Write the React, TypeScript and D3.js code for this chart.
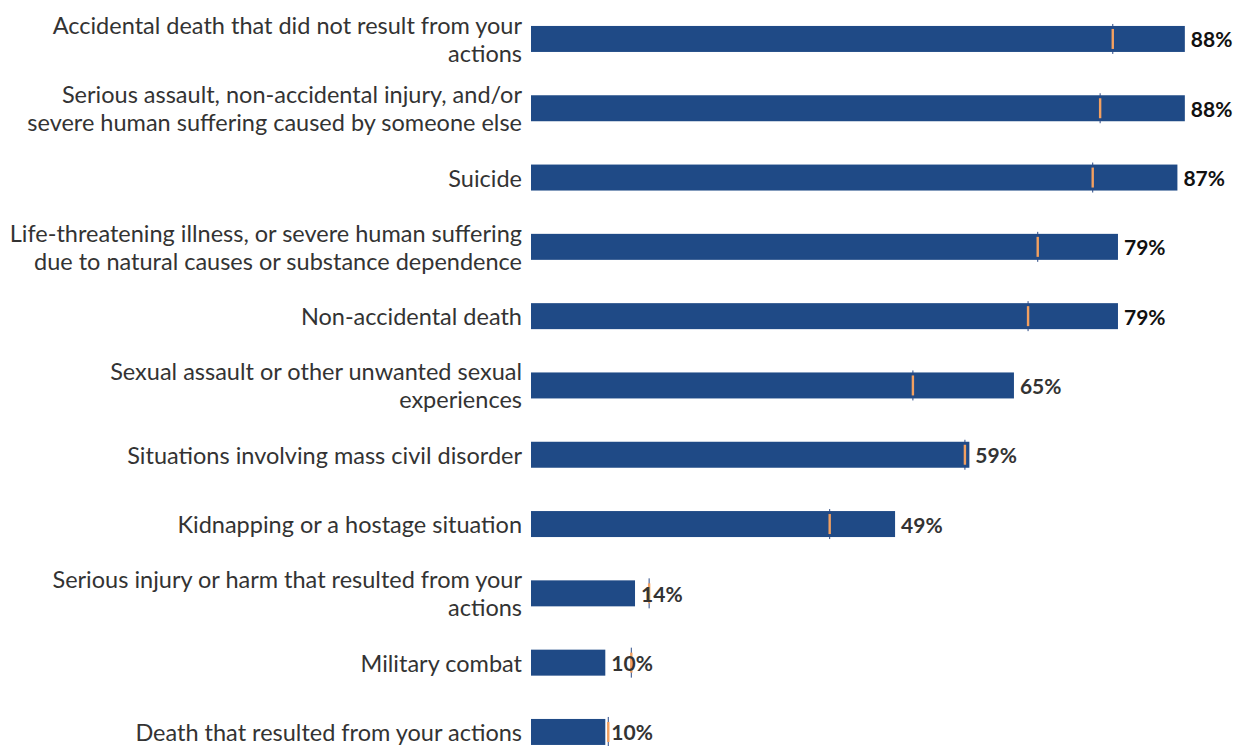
import React from "react";
import * as d3 from "d3";

const categories: string[][] = [
  ["Accidental death that did not result from your", "actions"],
  ["Serious assault, non-accidental injury, and/or", "severe human suffering caused by someone else"],
  ["Suicide"],
  ["Life-threatening illness, or severe human suffering", "due to natural causes or substance dependence"],
  ["Non-accidental death"],
  ["Sexual assault or other unwanted sexual", "experiences"],
  ["Situations involving mass civil disorder"],
  ["Kidnapping or a hostage situation"],
  ["Serious injury or harm that resulted from your", "actions"],
  ["Military combat"],
  ["Death that resulted from your actions"],
];
const values: number[] = [88, 88, 87, 79, 79, 65, 59, 49, 14, 10, 10];
const markers: number[] = [78.3, 76.6, 75.6, 68.2, 66.9, 51.4, 58.4, 40.2, 15.9, 13.5, 10.4];
const valueLabels: string[] = ["88%", "88%", "87%", "79%", "79%", "65%", "59%", "49%", "14%", "10%", "10%"];

const W = 1240;
const H = 746;

export default function App() {
  const x = d3.scaleLinear().domain([0, 100]).range([531, 1274]);
  const y = d3
    .scaleBand<number>()
    .domain(d3.range(categories.length))
    .range([4.3, 766.6])
    .paddingInner(0.625)
    .paddingOuter(0.3125);
  const bh = y.bandwidth();
  const font = "Lato, 'Open Sans', sans-serif";
  return (
    <svg
      width={W}
      height={H}
      style={{ position: "absolute", left: 0, top: 0, background: "#fff" }}
    >
      {categories.map((lines, i) => {
        const cy = (y(i) as number) + bh / 2;
        const bw = x(values[i]) - x(0);
        const mx = x(markers[i]);
        return (
          <g key={i}>
            {lines.map((t, j) => (
              <text
                key={j}
                x={522}
                y={cy + (lines.length === 1 ? 0 : j === 0 ? -14 : 14)}
                textAnchor="end"
                dominantBaseline="central"
                fontFamily={font}
                fontSize={23.5}
                fill="#333"
              >
                {t}
              </text>
            ))}
            <rect x={x(0)} y={y(i)} width={bw} height={bh} fill="#1F4A86" />
            <line x1={mx} x2={mx} y1={(y(i) as number) - 2} y2={(y(i) as number) + bh + 2} stroke="#2B4A86" strokeWidth={1} />
            <rect x={mx - 1.2} y={(y(i) as number) + 3} width={2.4} height={bh - 6} fill="#F2A060" />
            <text
              x={x(values[i]) + 6}
              y={cy}
              dominantBaseline="central"
              fontFamily={font}
              fontSize={21}
              fontWeight={700}
              fill={i < 5 ? "#111" : "#333"}
            >
              {valueLabels[i]}
            </text>
          </g>
        );
      })}
    </svg>
  );
}
